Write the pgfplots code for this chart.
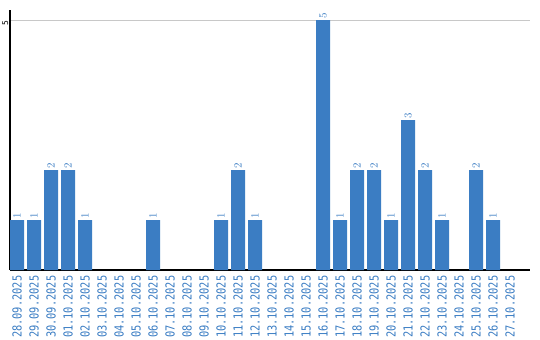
\documentclass[border=0pt]{standalone}
\usepackage{pgfplots}
\pgfplotsset{compat=1.18}
\usepackage{pgfplotstable}
\usepackage{fontspec}
\setmainfont{DejaVu Sans}
\newfontfamily\mono{DejaVu Sans Mono}
\newfontfamily\monon[FakeStretch=0.83]{DejaVu Sans Mono}
\definecolor{barblue}{HTML}{3B7DC3}
\definecolor{gridgray}{HTML}{C8C8C8}
\pgfplotstableread{
x y
0 1
1 1
2 2
3 2
4 1
8 1
12 1
13 2
14 1
18 5
19 1
20 2
21 2
22 1
23 3
24 2
25 1
27 2
28 1
}\datatable
\begin{document}
\begin{tikzpicture}
\begin{axis}[
  at={(0,0)}, anchor=south west,
  scale only axis,
  width=520bp, height=260bp,
  xmin=-0.41176, xmax=30.176,
  ymin=0, ymax=5.2,
  axis x line=bottom, axis y line=left,
  axis line style={-, black, line width=1.2bp},
  xtick={0,...,29},
  xticklabels={28.09.2025,29.09.2025,30.09.2025,01.10.2025,02.10.2025,03.10.2025,04.10.2025,05.10.2025,06.10.2025,07.10.2025,08.10.2025,09.10.2025,10.10.2025,11.10.2025,12.10.2025,13.10.2025,14.10.2025,15.10.2025,16.10.2025,17.10.2025,18.10.2025,19.10.2025,20.10.2025,21.10.2025,22.10.2025,23.10.2025,24.10.2025,25.10.2025,26.10.2025,27.10.2025},
  xticklabel style={rotate=90, anchor=east, font=\monon\fontsize{12.5}{13}\selectfont, text=barblue, inner sep=0pt, xshift=-5.5bp},
  major tick length=0pt,
  ytick={5}, yticklabels={5},
  yticklabel style={rotate=90, anchor=south, font=\mono\fontsize{8}{8}\selectfont, inner sep=0pt, xshift=-3bp, yshift=1.5bp},
  ymajorgrids, grid style={gridgray, line width=1bp},
  clip=false,
]
\addplot[ybar, bar width=0.8235, fill=barblue, draw=none,
  nodes near coords,
  every node near coord/.append style={rotate=90, anchor=west, font=\mono\fontsize{10.5}{11}\selectfont, text=barblue, inner sep=1.5bp}]
  table[x=x, y=y] {\datatable};
\end{axis}
\pgfresetboundingbox
\useasboundingbox (-10bp,-70bp) rectangle (530bp,270bp);
\end{tikzpicture}
\end{document}
